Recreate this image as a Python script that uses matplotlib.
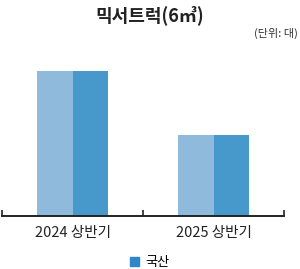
import matplotlib.pyplot as plt
from matplotlib.patches import Patch

plt.rcParams['font.family'] = ['Noto Sans CJK KR', 'DejaVu Sans']

categories = ['2024 상반기', '2025 상반기']
values = [145, 81]
series_name = '국산'

light = '#8fbadc'
dark = '#4799cb'

fig = plt.figure(figsize=(3.0, 2.69), dpi=100)
ax = fig.add_axes([0.0067, 0.197, 0.94, 0.6])

x = list(range(len(categories)))
ax.bar([i - 0.125 for i in x], values, width=0.25, color=light, linewidth=0)
ax.bar([i + 0.125 for i in x], values, width=0.25, color=dark, linewidth=0)

ax.set_xlim(-0.5, len(categories) - 0.5)
ax.set_ylim(0, 161)
ax.set_xticks(x)
ax.set_xticklabels(categories, fontsize=10.5, color='#222222')
ax.set_xticks([-0.5, 0.5, 1.5], minor=True)
ax.tick_params(axis='x', which='major', length=0, pad=7)
ax.tick_params(axis='x', which='minor', direction='in', length=4, width=1.2, color='#222222')
ax.set_yticks([])
for s in ['top', 'left', 'right']:
    ax.spines[s].set_visible(False)
ax.spines['bottom'].set_linewidth(1.4)
ax.spines['bottom'].set_color('#222222')

fig.text(0.5, 0.945, '믹서트럭(6㎥)', ha='center', va='center', fontsize=13,
         fontweight='bold', color='#222222')
fig.text(0.993, 0.877, '(단위: 대)', ha='right', va='center', fontsize=8, color='#333333')

fig.legend(handles=[Patch(color='#2f86c8', label=series_name)], loc='center',
           bbox_to_anchor=(0.5, 0.025), frameon=False, fontsize=9.5,
           handlelength=0.7, handleheight=0.7, handletextpad=0.5)

fig.savefig('out.png', dpi=100)
